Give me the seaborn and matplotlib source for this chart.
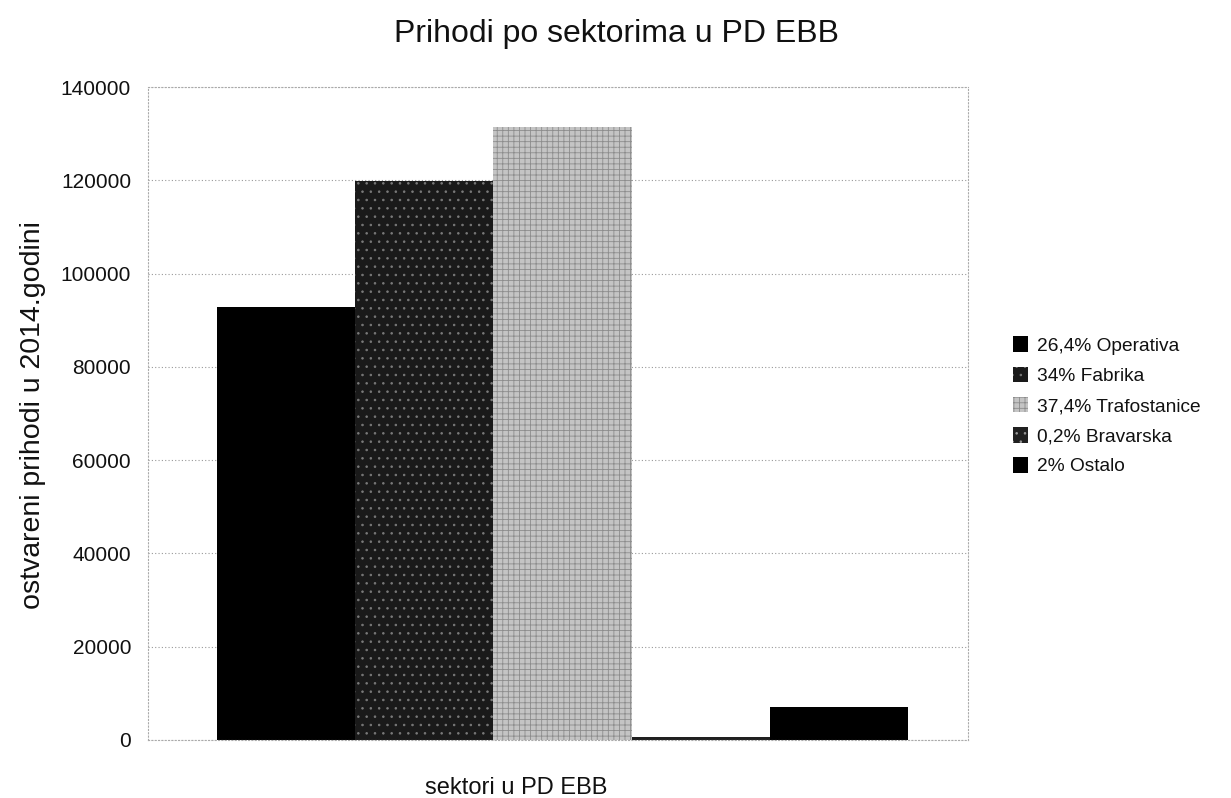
import pandas as pd
import numpy as np
import seaborn as sns
import matplotlib.pyplot as plt

sektori = ["26,4% Operativa", "34% Fabrika", "37,4% Trafostanice", "0,2% Bravarska", "2% Ostalo"]
prihodi = [92800, 119800, 131400, 700, 7000]
kategorija = "sektori u PD EBB"

boje = ["#000000", "#1a1a1a", "#c4c4c4", "#202020", "#000000"]
srafure = ["", "..", "+++", "..", ""]
srafure_boje = ["#000000", "#7a7a7a", "#8c8c8c", "#9a9a9a", "#000000"]

df = pd.DataFrame({"kat": [kategorija] * len(sektori), "sektor": sektori, "prihod": prihodi})

sns.set_style("white")
plt.rcParams['font.family'] = ['Liberation Sans', 'DejaVu Sans']
plt.rcParams['hatch.linewidth'] = 0.6

fig = plt.figure(figsize=(12.31, 7.98), dpi=100)
ax = fig.add_axes([0.120, 0.0727, 0.666, 0.818])

sns.barplot(ax=ax, data=df, x="kat", y="prihod", hue="sektor", palette=boje,
            width=0.843, saturation=1, legend=False)

for cont, boja, sr, sb in zip(ax.containers, boje, srafure, srafure_boje):
    for p in cont.patches:
        p.set_facecolor(boja)
        p.set_hatch(sr)
        p.set_edgecolor(sb)
        p.set_linewidth(0.0)

ax.set_xlim(-0.506, 0.494)
ax.set_ylim(0, 140000)
ax.set_yticks(np.arange(0, 140001, 20000))
ax.tick_params(axis='y', labelsize=15, length=0, pad=12, labelcolor="#111111")
ax.set_xticks([])
ax.yaxis.grid(True, color="#999999", linestyle=(0, (1, 2)), linewidth=0.8)
ax.set_axisbelow(True)
for s in ax.spines.values():
    s.set_color("#aaaaaa")
    s.set_linestyle((0, (1, 2)))
    s.set_linewidth(0.8)

ax.set_xlabel(kategorija, fontsize=17, color="#111111")
ax.xaxis.set_label_coords(0.45, -0.057)
ax.set_ylabel("ostvareni prihodi u 2014.godini", fontsize=20.5, color="#111111")
ax.yaxis.set_label_coords(-0.124, 0.497)

fig.suptitle("Prihodi po sektorima u PD EBB", fontsize=23, x=0.501, y=0.976,
             va="top", color="#111111")

handles = [c.patches[0] for c in ax.containers]
ax.legend(handles, sektori, loc="upper left", bbox_to_anchor=(0.817, 0.588),
          bbox_transform=fig.transFigure, frameon=False, fontsize=13.8,
          handlelength=0.75, handleheight=0.9, handletextpad=0.5, labelspacing=0.6,
          borderaxespad=0, labelcolor="#111111")

fig.savefig("out.png", dpi=100)
